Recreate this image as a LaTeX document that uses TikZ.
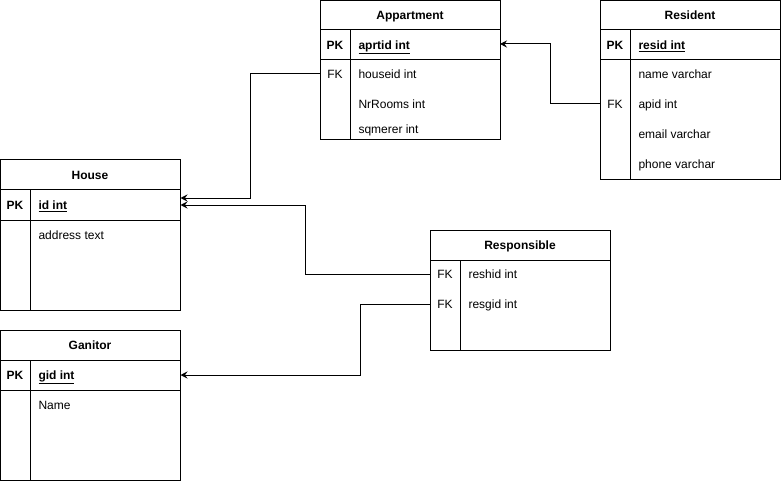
\documentclass[tikz,border=0pt]{standalone}
\usepackage{fontspec}
\setmainfont{Liberation Sans}
\usetikzlibrary{arrows.meta,calc}
\newcommand{\tblfont}{\fontsize{12}{14}\selectfont}
\tikzset{
    tbl/.style={draw, anchor=north west, inner sep=0pt, outer sep=0pt, minimum width=180pt},
    ttl/.style={font=\tblfont\bfseries, inner sep=0pt, text height=11pt, text depth=2pt},
    key/.style={inner sep=0pt, text height=11pt, text depth=2pt},
    pkey/.style={key, font=\tblfont\bfseries},
    fld/.style={anchor=west, inner sep=0pt, text height=11pt, text depth=2pt},
    rel/.style={-{Stealth[length=7pt, width=7pt, inset=2.5pt]}},
  }

\begin{document}
\begin{tikzpicture}[x=1pt, y=-1pt, line width=1pt, font=\tblfont]
				  %page
				  \useasboundingbox (0,0) rectangle (781,481);

				  %Appartment
				  \node[tbl, minimum height=139pt] (app) at (320,0.5) {};
				  \draw (320,30) -- (500,30) (320,60) -- (500,60) (350,30) -- (350,139.5);
				  \node[ttl] (app-t) at (410,15) {Appartment};
				  \node[pkey] (app-pk) at (335,45) {PK};
				  \node[fld] (app-aprtid) at (358,45) {\underline{\textbf{aprtid int}}};
				  \node[key] (app-fk) at (335,74) {FK};
				  \node[fld] (app-houseid) at (358,74) {houseid int};
				  \node[fld] (app-nrrooms) at (358,104) {NrRooms int};
				  \node[fld] (app-sqmerer) at (358,129) {sqmerer int};

				  %Resident
				  \node[tbl, minimum height=179.5pt] (res) at (600,0.5) {};
				  \draw (600,30) -- (780,30) (600,60) -- (780,60) (630,30) -- (630,180);
				  \node[ttl] (res-t) at (690,15) {Resident};
				  \node[pkey] (res-pk) at (615,45) {PK};
				  \node[fld] (res-resid) at (638,45) {\underline{\textbf{resid int}}};
				  \node[fld] (res-name) at (638,74) {name varchar};
				  \node[key] (res-fk) at (615,104) {FK};
				  \node[fld] (res-apid) at (638,104) {apid int};
				  \node[fld] (res-email) at (638,134) {email varchar};
				  \node[fld] (res-phone) at (638,164) {phone varchar};

				  %House
				  \node[tbl, minimum height=150pt] (house) at (0.5,160) {};
				  \draw (0.5,190) -- (180.5,190) (0.5,220) -- (180.5,220) (30,190) -- (30,310);
				  \node[ttl] (house-t) at (90,175) {House};
				  \node[pkey] (house-pk) at (15,205) {PK};
				  \node[fld] (house-id) at (38,205) {\underline{\textbf{id int}}};
				  \node[fld] (house-address) at (38,235) {address text};

				  %Ganitor
				  \node[tbl, minimum height=150pt] (gan) at (0.5,330) {};
				  \draw (0.5,360) -- (180.5,360) (0.5,390) -- (180.5,390) (30,360) -- (30,480);
				  \node[ttl] (gan-t) at (90,345) {Ganitor};
				  \node[pkey] (gan-pk) at (15,375) {PK};
				  \node[fld] (gan-gid) at (38,375) {\underline{\textbf{gid int}}};
				  \node[fld] (gan-name) at (38,405) {Name};

				  %Responsible
				  \node[tbl, minimum height=120pt] (resp) at (430,230) {};
				  \draw (430,260) -- (610,260) (460,260) -- (460,350);
				  \node[ttl] (resp-t) at (520,245) {Responsible};
				  \node[key] (resp-fk1) at (445,274) {FK};
				  \node[fld] (resp-reshid) at (468,274) {reshid int};
				  \node[key] (resp-fk2) at (445,304) {FK};
				  \node[fld] (resp-resgid) at (468,304) {resgid int};

				  %relations
				  \draw[rel] (app-fk -| app.west) -- ++(-70,0) |- ([yshift=7pt]house-id -| house.east);
				  \draw[rel] (resp-fk1 -| resp.west) -- ++(-125,0) |- (house-id -| house.east);
				  \draw[rel] (res-fk -| res.west) -- ++(-50,0) |- ([yshift=1pt]app-pk -| app.east);
				  \draw[rel] (resp-fk2 -| resp.west) -- ++(-70,0) |- (gan-gid -| gan.east);
				  \end{tikzpicture}
\end{document}
